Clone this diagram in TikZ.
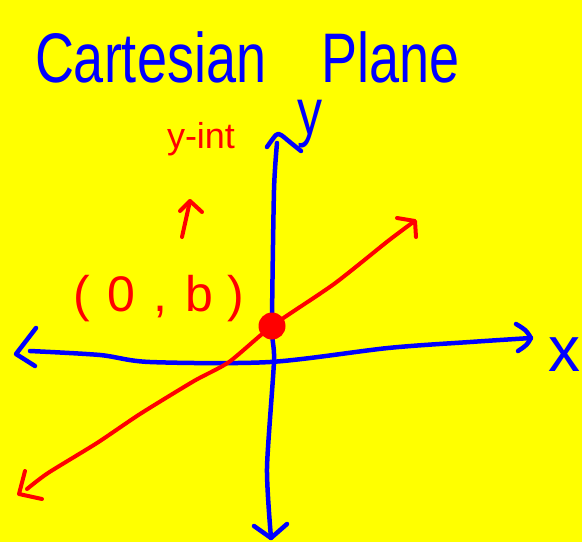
\documentclass[tikz,border=0pt]{standalone}
\usepackage{fontspec}
\setmainfont{Liberation Sans}
\definecolor{bg}{HTML}{FFFF00}
\definecolor{pen}{HTML}{0000FF}
\definecolor{ink}{HTML}{FF0000}
\begin{document}
\begin{tikzpicture}[x=1pt,y=-1pt,
  bluepen/.style={draw=pen,line width=4.5pt,line cap=round,line join=round},
  redpen/.style={draw=ink,line width=4pt,line cap=round,line join=round},
  lbl/.style={inner sep=0pt,outer sep=0pt}]
\fill[bg] (0,0) rectangle (582,542);
\useasboundingbox (0,0) rectangle (582,542);

% title
\node[lbl,anchor=base west,text=pen,font=\fontsize{54}{54}\selectfont] (title) at (35,82) {\scalebox{1}[1.3]{Cartesian\hspace{40pt} Plane}};

% axis points
\coordinate (yT) at (276,135);
\coordinate (yTop) at (277,143);
\coordinate (y1) at (274,190);
\coordinate (y2) at (272,326);
\coordinate (y3) at (274,361);
\coordinate (y4) at (267,468);
\coordinate (yB) at (271,538);
\coordinate (xL) at (16,354);
\coordinate (xStart) at (30,351);
\coordinate (x1) at (100,355);
\coordinate (x2) at (150,362);
\coordinate (x3) at (270,362);
\coordinate (x4) at (388,348);
\coordinate (x5) at (470,342);
\coordinate (xR) at (531,338);

% y axis
\draw[bluepen] plot[smooth,tension=0.4] coordinates {(yTop) (y1) (y2) (y3) (y4) (yB)};
\draw[bluepen] plot[smooth,tension=0.5] coordinates {(267,147) (yT) (281,135) (291,143) (301,151)};
\draw[bluepen] (254,526) -- (yB) -- (287,524);

% x axis
\draw[bluepen] plot[smooth,tension=0.5] coordinates {(xStart) (x1) (x2) (x3) (x4) (x5) (xR)};
\draw[bluepen] (36,328) -- (xL) -- (35,366);
\draw[bluepen] (516,324) .. controls (526,330) .. (xR) .. controls (527,345) .. (518,351);

% axis labels
\node[lbl,anchor=base west,text=pen,font=\fontsize{50}{50}\selectfont] (ylab) at (297,134) {\scalebox{1}[1.3]{y}};
\node[lbl,anchor=base west,text=pen,font=\fontsize{64}{64}\selectfont] (xlab) at (548,371) {x};

% red line
\coordinate (rA) at (19,494);
\coordinate (rB) at (415,221);
\coordinate (dot) at (272,326);
\draw[redpen] plot[smooth,tension=0.4] coordinates {(27,489) (48,473) (97,443) (140,414) (194,381) (229,362) (dot) (334,284) (388,241) (412,223)};
\draw[redpen] (25,471) -- (rA) -- (42,499);
\draw[redpen] (397,218) -- (rB) -- (416,237);
\fill[ink] (dot) circle (13.5);

% labels red
\node[lbl,anchor=base west,text=ink,font=\fontsize{50}{50}\selectfont] (ob) at (73,311) {(\hspace{18pt}0\hspace{18pt},\hspace{18pt}b\hspace{14pt})};
\node[lbl,anchor=base west,text=ink,font=\fontsize{36}{36}\selectfont] (yint) at (167,148) {y-int};
\coordinate (aT) at (190,201);
\coordinate (aB) at (182,237);
\draw[redpen] (aB) -- (aT);
\draw[redpen] (180,211) -- (aT) -- (202,212);
\end{tikzpicture}
\end{document}
